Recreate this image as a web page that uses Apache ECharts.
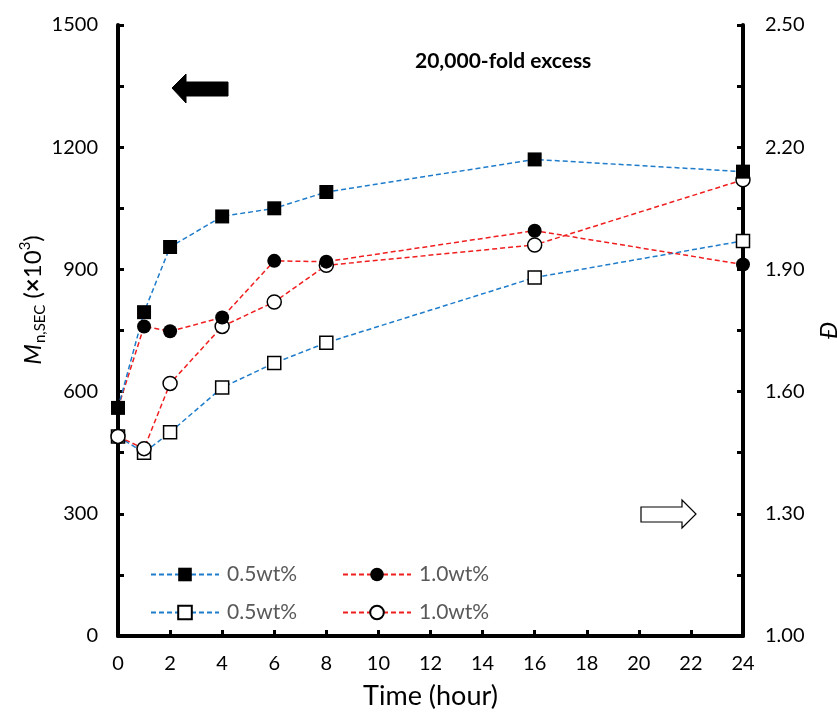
<!DOCTYPE html>
<html>
<head>
<meta charset="utf-8">
<script src="https://cdn.jsdelivr.net/npm/echarts@6/dist/echarts.min.js"></script>
<style>
html, body { margin: 0; padding: 0; background: #fff; }
#chart { width: 837px; height: 718px; }
</style>
</head>
<body>
<div id="chart"></div>
<script>
// Sampling times (hours)
const hours = [0, 1, 2, 4, 6, 8, 16, 24];
// Number-average molecular weight (x10^3), left axis
const mnHalf = [560, 795, 955, 1030, 1050, 1090, 1170, 1140];
const mnOne = [560, 760, 748, 782, 921, 919, 995, 912];
// Dispersity, right axis
const dispHalf = [1.49, 1.45, 1.50, 1.61, 1.67, 1.72, 1.88, 1.97];
const dispOne = [1.49, 1.46, 1.62, 1.76, 1.82, 1.91, 1.96, 2.12];
// Legend captions
const legendLabels = ['0.5wt%', '1.0wt%', '0.5wt%', '1.0wt%'];
const seriesNames = ['Mn 0.5wt%', 'Mn 1.0wt%', 'D 0.5wt%', 'D 1.0wt%'];

const FONT = 'Lato';
const BLUE = '#1E7CCB';
const RED = '#F01E1E';

function pairs(vals) {
  return hours.map((h, i) => [h, vals[i]]);
}

function lineSeries(name, yIdx, vals, color, symbol, filled, size) {
  return {
    name: name,
    type: 'line',
    yAxisIndex: yIdx,
    data: pairs(vals),
    symbol: symbol,
    symbolSize: size,
    showAllSymbol: true,
    lineStyle: { color: color, width: 1.5, type: [5, 3] },
    itemStyle: filled
      ? { color: '#000' }
      : { color: '#fff', borderColor: '#000', borderWidth: 1.5 },
    emphasis: { disabled: true },
    animation: false
  };
}

function legendAt(idx, left, top) {
  return {
    data: [seriesNames[idx]],
    left: left,
    top: top,
    padding: 0,
    itemWidth: 68,
    itemHeight: 17,
    itemGap: 0,
    selectedMode: false,
    formatter: () => legendLabels[idx],
    textStyle: { fontFamily: FONT, fontSize: 21, color: '#595959', padding: [0, 0, 0, 3] }
  };
}

const axisLineStyle = { color: '#000', width: 4 };
const tickStyle = { color: '#000', width: 3 };

const chart = echarts.init(document.getElementById('chart'), null, { renderer: 'canvas' });

chart.setOption({
  animation: false,
  backgroundColor: '#fff',
  grid: { left: 118, right: 94, top: 25, bottom: 82, containLabel: false, outerBoundsMode: 'none' },
  xAxis: {
    type: 'value',
    min: 0, max: 24, interval: 2,
    name: 'Time (hour)',
    nameLocation: 'middle',
    nameGap: 47,
    nameTextStyle: { fontFamily: FONT, fontSize: 27, color: '#000' },
    axisLine: { onZero: false, lineStyle: axisLineStyle },
    axisTick: { inside: true, length: 6, lineStyle: tickStyle },
    axisLabel: { fontFamily: FONT, fontSize: 20, color: '#000', margin: 18 },
    splitLine: { show: false }
  },
  yAxis: [
    {
      type: 'value',
      position: 'left',
      min: 0, max: 1500, interval: 300,
      axisLine: { show: true, onZero: false, lineStyle: axisLineStyle },
      axisTick: { show: true, inside: true, length: 6, lineStyle: tickStyle },
      minorTick: { show: true, splitNumber: 2, length: 6, lineStyle: tickStyle },
      axisLabel: { fontFamily: FONT, fontSize: 20, color: '#000', margin: 20, formatter: v => String(v) },
      splitLine: { show: false }
    },
    {
      type: 'value',
      position: 'right',
      min: 1.0, max: 2.5, interval: 0.3,
      name: 'Đ',
      nameLocation: 'middle',
      nameGap: 74,
      nameTextStyle: { fontFamily: FONT, fontSize: 24, fontStyle: 'italic', color: '#000' },
      axisLine: { show: true, onZero: false, lineStyle: axisLineStyle },
      axisTick: { show: true, inside: true, length: 6, lineStyle: tickStyle },
      minorTick: { show: true, splitNumber: 2, length: 6, lineStyle: tickStyle },
      axisLabel: {
        fontFamily: FONT, fontSize: 20, color: '#000', margin: 22,
        formatter: v => v.toFixed(2)
      },
      splitLine: { show: false }
    }
  ],
  legend: [
    legendAt(0, 150, 564),
    legendAt(1, 342, 564),
    legendAt(2, 150, 602),
    legendAt(3, 342, 602)
  ],
  graphic: [
    {
      // left axis title, rotated to read bottom-to-top
      type: 'text',
      x: 33, y: 300,
      rotation: Math.PI / 2,
      style: {
        text: '{m|M}{sub|n,SEC}{t| (}{b|×}{t|10}{sup|3}{t|)}',
        align: 'center',
        verticalAlign: 'middle',
        rich: {
          m: { fontFamily: FONT, fontSize: 24, fontStyle: 'italic', fill: '#000', lineHeight: 30 },
          sub: { fontFamily: FONT, fontSize: 15, fill: '#000', verticalAlign: 'bottom', lineHeight: 30, padding: [0, 0, 0, 1] },
          t: { fontFamily: FONT, fontSize: 24, fill: '#000', lineHeight: 30 },
          b: { fontFamily: FONT, fontSize: 24, fontWeight: 'bold', fill: '#000', lineHeight: 30 },
          sup: { fontFamily: FONT, fontSize: 15, fill: '#000', verticalAlign: 'top', lineHeight: 30 }
        }
      }
    },
    {
      type: 'text',
      left: 415, top: 51,
      style: { text: '20,000-fold excess', fontFamily: FONT, fontSize: 21, fontWeight: 'bold', fill: '#000' }
    },
    {
      type: 'polygon',
      shape: { points: [[172, 88], [186, 74], [186, 82], [228, 82], [228, 96], [186, 96], [186, 103]] },
      style: { fill: '#000', stroke: '#000', lineWidth: 1 }
    },
    {
      type: 'polygon',
      shape: { points: [[641, 507], [682, 507], [682, 500], [696, 514], [682, 528], [682, 522], [641, 522]] },
      style: { fill: '#fff', stroke: '#000', lineWidth: 1.2 }
    }
  ],
  series: [
    lineSeries(seriesNames[2], 1, dispHalf, BLUE, 'rect', false, 13),
    lineSeries(seriesNames[3], 1, dispOne, RED, 'circle', false, 14),
    lineSeries(seriesNames[1], 0, mnOne, RED, 'circle', true, 14),
    lineSeries(seriesNames[0], 0, mnHalf, BLUE, 'rect', true, 14)
  ]
});
</script>
</body>
</html>
